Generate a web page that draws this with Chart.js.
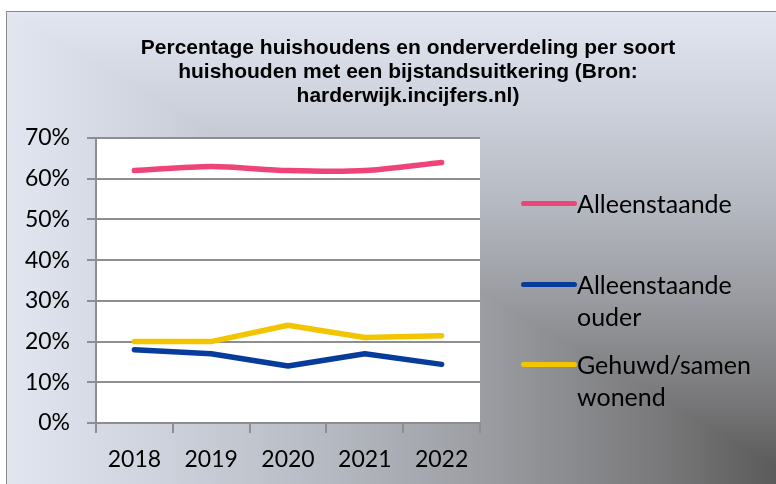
<!DOCTYPE html>
<html>
<head>
<meta charset="utf-8">
<script src="https://cdn.jsdelivr.net/npm/chart.js@4/dist/chart.umd.min.js"></script>
<style>
  html, body { margin:0; padding:0; width:776px; height:484px; overflow:hidden; background:#fff; }
  #frame {
    position:absolute; left:6px; top:11px; width:812px; height:480px;
    border:1px solid #8a8a8a; box-sizing:border-box; overflow:hidden;
  }
  .bg { position:absolute; left:0; top:0; width:100%; height:100%; }
  #bgA { background: linear-gradient(to right, #e2e6f0 0%, #cdd1db 20%, #b5b9c1 40%, #999ba0 60%, #7a7a7c 80%, #5b5b5b 95%, #555 100%); }
  #bgB { clip-path: polygon(0 0, 100% 0, 100% 100%);
         background: linear-gradient(to bottom, #e2e6f0 0%, #cdd1db 20%, #b5b9c1 40%, #999ba0 60%, #7a7a7c 80%, #5b5b5b 95%, #555 100%); }
  #wrap { position:absolute; left:0; top:0; width:810px; height:478px; }
  #legend { position:absolute; left:0; top:0; font-family: Lato, "Open Sans", sans-serif; font-size:25px; color:#000; }
  .item { position:absolute; left:514px; }
  .swatch { position:absolute; left:0; width:56px; height:5px; border-radius:3px; }
  .lbl { position:absolute; left:56px; line-height:32px; white-space:nowrap; }
</style>
</head>
<body>
<div id="frame">
  <div id="bgA" class="bg"></div>
  <div id="bgB" class="bg"></div>
  <div id="wrap"><canvas id="c"></canvas></div>
  <div id="legend"></div>
</div>
<script>
const categories = ["2018", "2019", "2020", "2021", "2022"];
const seriesNames = ["Alleenstaande", "Alleenstaande ouder", "Gehuwd/samen wonend"];
const legendLines = [["Alleenstaande"], ["Alleenstaande", "ouder"], ["Gehuwd/samen", "wonend"]];
const alleenstaande = [62, 63, 62, 62, 64];
const alleenstaandeOuder = [18, 17, 14, 17, 14.4];
const gehuwdSamenwonend = [20, 20, 24, 21, 21.4];
const yTicks = [0, 10, 20, 30, 40, 50, 60, 70];
const titleLines = ["Percentage huishoudens en onderverdeling per soort", "huishouden met een bijstandsuitkering (Bron:", "harderwijk.incijfers.nl)"];
const colors = ["#ee4479", "#073b9c", "#f2c500"];

const plotBg = {
  id: 'plotBg',
  beforeDraw(chart) {
    const {ctx, chartArea: a} = chart;
    ctx.save();
    ctx.fillStyle = '#ffffff';
    ctx.fillRect(a.left, a.top, a.right - a.left, a.bottom - a.top);
    ctx.restore();
  }
};

// Title drawn centered over the whole chart object
const chartTitle = {
  id: 'chartTitle',
  afterDraw(chart) {
    const ctx = chart.ctx;
    ctx.save();
    ctx.fillStyle = '#000';
    ctx.font = 'bold 21px "Liberation Sans", Arial, sans-serif';
    ctx.textAlign = 'center';
    ctx.textBaseline = 'alphabetic';
    const cx = 401, y0 = 42, lh = 23.8;
    titleLines.forEach((t, i) => ctx.fillText(t, cx, y0 + i * lh));
    ctx.restore();
  }
};

const axisFont = { family: 'Lato, "Open Sans", sans-serif', size: 23 };

const chart = new Chart(document.getElementById('c'), {
  type: 'line',
  data: {
    labels: categories,
    datasets: [
      { label: seriesNames[0], data: alleenstaande, borderColor: colors[0], backgroundColor: colors[0], tension: 0.3 },
      { label: seriesNames[1], data: alleenstaandeOuder, borderColor: colors[1], backgroundColor: colors[1], tension: 0 },
      { label: seriesNames[2], data: gehuwdSamenwonend, borderColor: colors[2], backgroundColor: colors[2], tension: 0 }
    ].map(d => Object.assign(d, { borderWidth: 5.5, pointRadius: 0, pointHoverRadius: 0, borderCapStyle: 'round', borderJoinStyle: 'round', fill: false }))
  },
  plugins: [plotBg, chartTitle],
  options: {
    responsive: true,
    maintainAspectRatio: false,
    animation: false,
    layout: { padding: { left: 0, top: 126, right: 337, bottom: 0 } },
    plugins: {
      legend: { display: false },
      tooltip: { enabled: false },
      title: { display: false }
    },
    scales: {
      x: {
        offset: true,
        grid: { offset: true, drawOnChartArea: false, drawTicks: true, tickLength: 10, color: '#8e8e8e', lineWidth: 2 },
        border: { display: true, color: '#8e8e8e', width: 2 },
        ticks: { color: '#000', font: axisFont, padding: 13 },
        afterFit(scale) { scale.height = 67; }
      },
      y: {
        min: 0, max: 70,
        afterBuildTicks(scale) { scale.ticks = yTicks.map(v => ({ value: v })); },
        grid: { color: '#8e8e8e', lineWidth: 2, tickLength: 9 },
        border: { display: true, color: '#8e8e8e', width: 2 },
        ticks: { color: '#000', font: axisFont, padding: 17, callback: v => v + '%' },
        afterFit(scale) { scale.width = 89; }
      }
    }
  }
});

// HTML legend built from the datasets
const legendTops = [175, 256, 336];
const legendEl = document.getElementById('legend');
chart.data.datasets.forEach((ds, i) => {
  const item = document.createElement('div');
  item.className = 'item';
  item.style.top = legendTops[i] + 'px';
  const sw = document.createElement('div');
  sw.className = 'swatch';
  sw.style.background = ds.borderColor;
  sw.style.top = '13.5px';
  const lbl = document.createElement('div');
  lbl.className = 'lbl';
  lbl.style.top = '0px';
  lbl.innerHTML = legendLines[i].join('<br>');
  item.appendChild(sw);
  item.appendChild(lbl);
  legendEl.appendChild(item);
});
</script>
</body>
</html>
